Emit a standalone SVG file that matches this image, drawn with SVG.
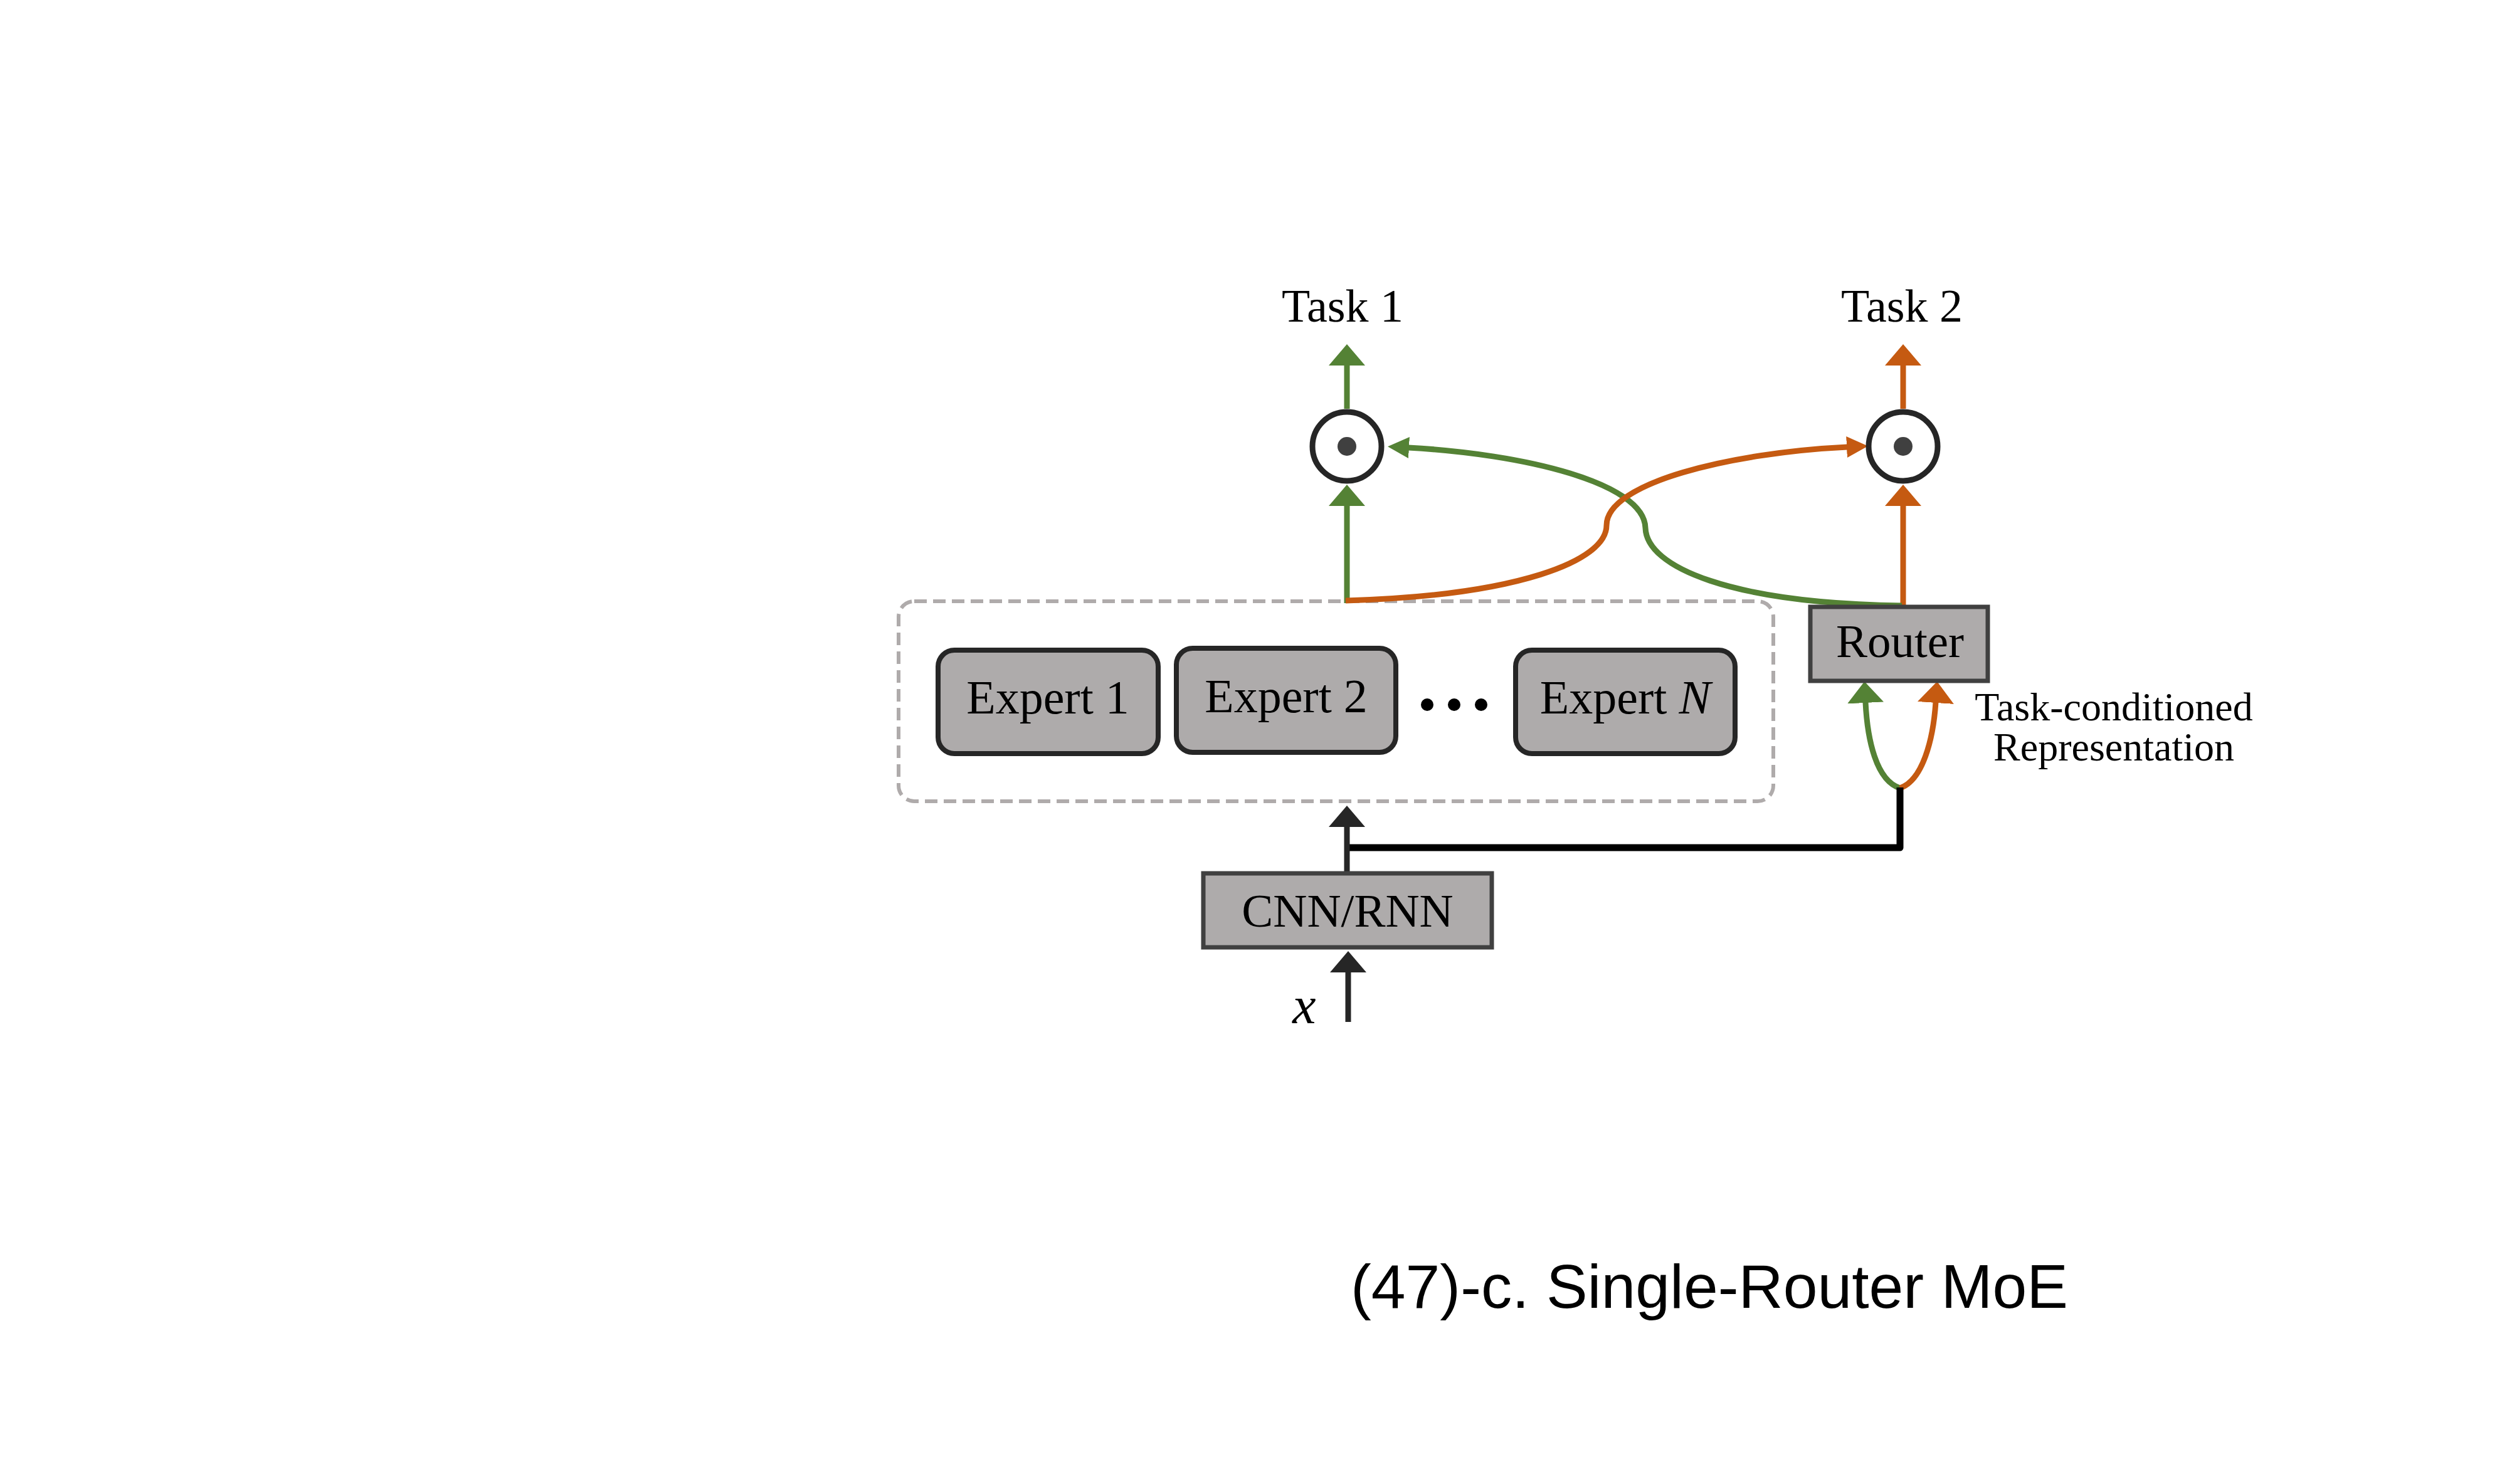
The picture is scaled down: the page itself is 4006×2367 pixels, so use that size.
<svg xmlns="http://www.w3.org/2000/svg" width="4006" height="2367" viewBox="0 0 4006 2367">
<style>
.lbl{font-family:"Liberation Serif","Times New Roman",serif;fill:#000;text-anchor:middle}
.box{fill:#aeabab;stroke:#404040;stroke-width:7}
.exp{fill:#aeabab;stroke:#262626;stroke-width:8}
.g{fill:none;stroke:#548235;stroke-width:9}
.o{fill:none;stroke:#c55a11;stroke-width:9}
.k{fill:none;stroke:#262626;stroke-width:9}
.odot{fill:#fff;stroke:#262626;stroke-width:9}
</style>
<defs>
<marker id="aG" markerUnits="userSpaceOnUse" viewBox="0 0 34 58" refX="1" refY="29" markerWidth="34" markerHeight="58" orient="auto"><path d="M0,0 L34,29 L0,58 z" fill="#548235"/></marker>
<marker id="aO" markerUnits="userSpaceOnUse" viewBox="0 0 34 58" refX="1" refY="29" markerWidth="34" markerHeight="58" orient="auto"><path d="M0,0 L34,29 L0,58 z" fill="#c55a11"/></marker>
<marker id="aK" markerUnits="userSpaceOnUse" viewBox="0 0 34 58" refX="1" refY="29" markerWidth="34" markerHeight="58" orient="auto"><path d="M0,0 L34,29 L0,58 z" fill="#262626"/></marker>
<marker id="sG" markerUnits="userSpaceOnUse" viewBox="0 0 34 34" refX="1" refY="17" markerWidth="34" markerHeight="34" orient="auto"><path d="M0,0 L34,17 L0,34 z" fill="#548235"/></marker>
<marker id="sO" markerUnits="userSpaceOnUse" viewBox="0 0 34 34" refX="1" refY="17" markerWidth="34" markerHeight="34" orient="auto"><path d="M0,0 L34,17 L0,34 z" fill="#c55a11"/></marker>
</defs>
<rect width="4006" height="2367" fill="#fff"/>

<g id="experts-group">
<rect x="1433" y="959" width="1395" height="319" rx="25" fill="none" stroke="#afabab" stroke-width="6" stroke-dasharray="20 10"/>
</g>

<g id="connectors">
<path class="g" d="M2148 962 L2148 806" marker-end="url(#aG)"/>
<path class="g" d="M2148 652 L2148 582" marker-end="url(#aG)"/>
<path class="o" d="M3035 968 L3035 806" marker-end="url(#aO)"/>
<path class="o" d="M3035 652 L3035 582" marker-end="url(#aO)"/>
<path class="g" d="M3033 966 C2760 962 2626 905 2624 842 C2622 770 2430 724 2246 714" marker-end="url(#sG)"/>
<path class="o" d="M2146 958 C2420 950 2562 895 2562 838 C2562 770 2760 722 2946 713" marker-end="url(#sO)"/>
<path class="g" d="M3030 1257 C2992 1245 2978 1180 2975 1120" marker-end="url(#aG)"/>
<path class="o" d="M3030 1257 C3066 1245 3083 1180 3087 1120" marker-end="url(#aO)"/>
<path fill="none" stroke="#000" stroke-width="11" stroke-linejoin="round" d="M2148 1352 L3030 1352 L3030 1256"/>
<path class="k" d="M2148 1393 L2148 1318" marker-end="url(#aK)"/>
<path class="k" d="M2150 1630 L2150 1550" marker-end="url(#aK)"/>
</g>

<g id="task1">
<text class="lbl" x="2141" y="513" font-size="74">Task 1</text>
</g>
<g id="task2">
<text class="lbl" x="3033" y="513" font-size="74">Task 2</text>
</g>
<g id="mult1">
<circle class="odot" cx="2148" cy="712" r="55"/>
<circle cx="2148" cy="712" r="15" fill="#404040"/>
</g>
<g id="mult2">
<circle class="odot" cx="3035" cy="712" r="55"/>
<circle cx="3035" cy="712" r="15" fill="#404040"/>
</g>
<g id="expert1">
<rect class="exp" x="1496" y="1037" width="351" height="165" rx="26"/>
<text class="lbl" x="1671" y="1138" font-size="76">Expert 1</text>
</g>
<g id="expert2">
<rect class="exp" x="1876" y="1034" width="350" height="166" rx="26"/>
<text class="lbl" x="2051" y="1136" font-size="76">Expert 2</text>
</g>
<g id="ellipsis">
<circle cx="2276" cy="1124" r="10" fill="#000"/>
<circle cx="2319" cy="1124" r="10" fill="#000"/>
<circle cx="2362" cy="1124" r="10" fill="#000"/>
</g>
<g id="expertN">
<rect class="exp" x="2417" y="1037" width="350" height="165" rx="26"/>
<text class="lbl" x="2592" y="1138" font-size="76">Expert <tspan font-style="italic">N</tspan></text>
</g>
<g id="router">
<rect class="box" x="2887" y="968" width="283" height="118"/>
<text class="lbl" x="3030" y="1048" font-size="75">Router</text>
</g>
<g id="repr-label">
<text class="lbl" x="3371" y="1149" font-size="64">Task-conditioned</text>
<text class="lbl" x="3371" y="1213" font-size="64">Representation</text>
</g>
<g id="cnn">
<rect class="box" x="1919" y="1393" width="460" height="118"/>
<text class="lbl" x="2149" y="1478" font-size="75">CNN/RNN</text>
</g>
<g id="input">
<text class="lbl" x="2080" y="1632" font-size="84" font-style="italic">x</text>
</g>
<g id="caption">
<text x="2154" y="2086" font-family="'Liberation Sans','Open Sans',sans-serif" font-size="98" textLength="1144" lengthAdjust="spacingAndGlyphs" fill="#000">(47)-c. Single-Router MoE</text>
</g>
</svg>
